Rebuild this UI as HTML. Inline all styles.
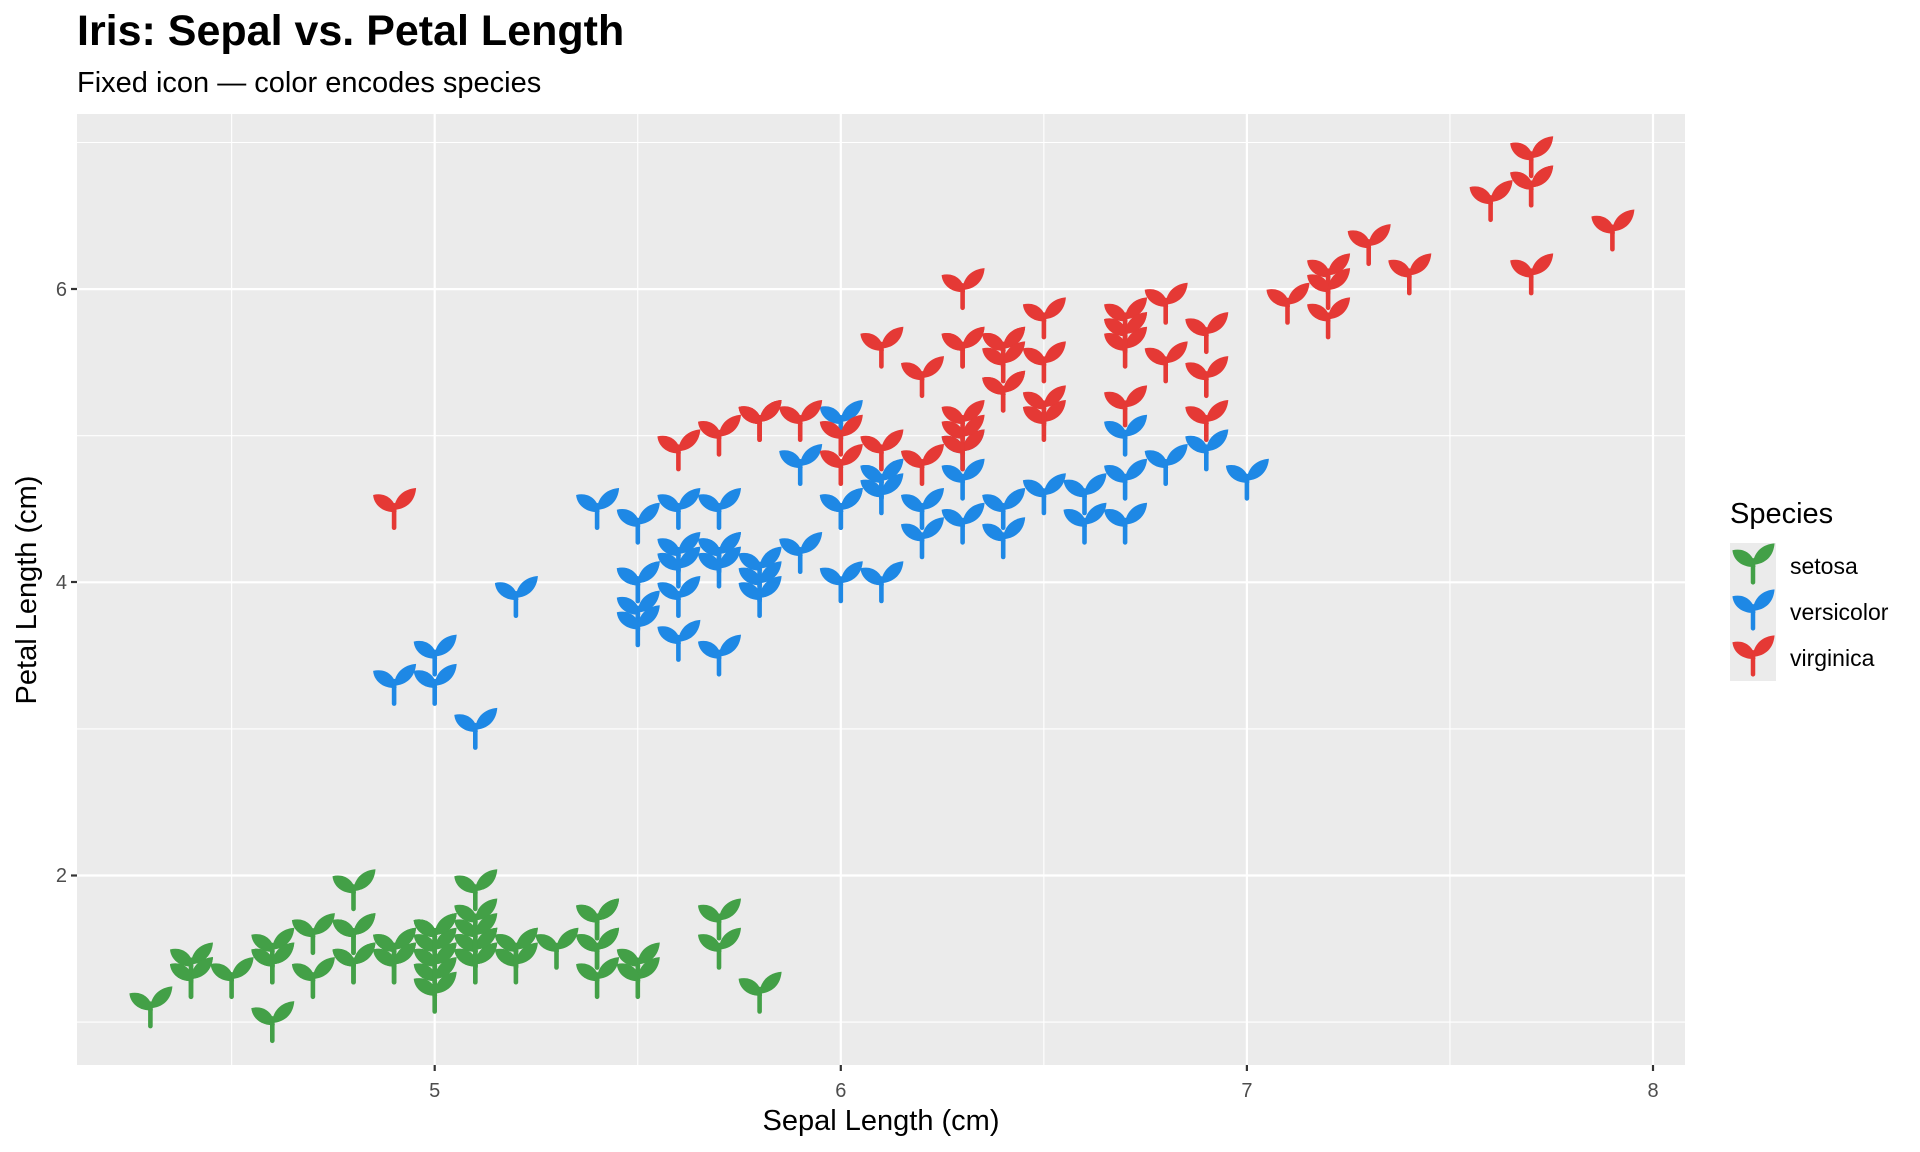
<!DOCTYPE html>
<html><head><meta charset="utf-8"><style>
html,body{margin:0;padding:0;background:#fff;}
svg{display:block;font-family:"Liberation Sans",sans-serif;}
</style></head><body>
<svg id="s" width="1920" height="1152" viewBox="0 0 1920 1152" xmlns="http://www.w3.org/2000/svg">
<defs>
<g id="icon">
<rect x="-2.3" y="-6" width="4.6" height="27" rx="2.3"/>
<path d="M2.5,3 C1,-10 -9,-17 -21,-14 C-20,-3 -10,4 2.5,3 Z"/>
<path d="M-0.5,1 C1,-13 10,-20 22,-21 C21,-8 13,0 -0.5,1 Z"/>
</g>
</defs>
<text x="77" y="45" font-size="43" font-weight="bold" fill="#000">Iris: Sepal vs. Petal Length</text>
<text x="77" y="92" font-size="29" fill="#000">Fixed icon — color encodes species</text>
<rect x="77" y="114" width="1608" height="951" fill="#ebebeb"/>
<g id="grid"></g>
<g id="pts"></g>
<g font-size="20" fill="#4d4d4d">
<text x="434.7" y="1097" text-anchor="middle">5</text>
<text x="840.8" y="1097" text-anchor="middle">6</text>
<text x="1246.9" y="1097" text-anchor="middle">7</text>
<text x="1653" y="1097" text-anchor="middle">8</text>
<text x="67" y="296" text-anchor="end">6</text>
<text x="67" y="589" text-anchor="end">4</text>
<text x="67" y="882" text-anchor="end">2</text>
</g>
<g stroke="#333" stroke-width="2.2">
<line x1="434.7" y1="1065" x2="434.7" y2="1071"/><line x1="840.8" y1="1065" x2="840.8" y2="1071"/>
<line x1="1246.9" y1="1065" x2="1246.9" y2="1071"/><line x1="1653" y1="1065" x2="1653" y2="1071"/>
<line x1="71" y1="289" x2="77" y2="289"/><line x1="71" y1="582" x2="77" y2="582"/><line x1="71" y1="875.5" x2="77" y2="875.5"/>
</g>
<text x="881" y="1130" font-size="29" text-anchor="middle" fill="#000">Sepal Length (cm)</text>
<text transform="translate(36,590) rotate(-90)" font-size="29" text-anchor="middle" fill="#000">Petal Length (cm)</text>
<text x="1730" y="523" font-size="29" fill="#000">Species</text>
<rect x="1730" y="543" width="46" height="138" fill="#ebebeb"/>
<use href="#icon" transform="translate(1753,564) scale(0.98)" fill="#43A047"/>
<use href="#icon" transform="translate(1753,610) scale(0.98)" fill="#1E88E5"/>
<use href="#icon" transform="translate(1753,656) scale(0.98)" fill="#E53935"/>
<g font-size="23" fill="#000">
<text x="1790" y="574">setosa</text>
<text x="1790" y="620">versicolor</text>
<text x="1790" y="666">virginica</text>
</g>
</svg>
<script>
function X(v){return 434.7+(v-5)*406.1;}
function Y(v){return 875.5-(v-2)*146.6;}
var g=document.getElementById("grid"),h="";
[4.5,5.5,6.5,7.5].forEach(function(v){h+='<line x1="'+X(v)+'" x2="'+X(v)+'" y1="114" y2="1065" stroke="#fff" stroke-width="1.1"/>';});
[1,3,5,7].forEach(function(v){h+='<line y1="'+Y(v)+'" y2="'+Y(v)+'" x1="77" x2="1685" stroke="#fff" stroke-width="1.1"/>';});
[5,6,7,8].forEach(function(v){h+='<line x1="'+X(v)+'" x2="'+X(v)+'" y1="114" y2="1065" stroke="#fff" stroke-width="2.2"/>';});
[2,4,6].forEach(function(v){h+='<line y1="'+Y(v)+'" y2="'+Y(v)+'" x1="77" x2="1685" stroke="#fff" stroke-width="2.2"/>';});
g.innerHTML=h;
var se="5.1 1.4;4.9 1.4;4.7 1.3;4.6 1.5;5.0 1.4;5.4 1.7;4.6 1.4;5.0 1.5;4.4 1.4;4.9 1.5;5.4 1.5;4.8 1.6;4.8 1.4;4.3 1.1;5.8 1.2;5.7 1.5;5.4 1.3;5.1 1.4;5.7 1.7;5.1 1.5;5.4 1.7;5.1 1.5;4.6 1.0;5.1 1.7;4.8 1.9;5.0 1.6;5.0 1.6;5.2 1.5;5.2 1.4;4.7 1.6;4.8 1.6;5.4 1.5;5.2 1.5;5.5 1.4;4.9 1.5;5.0 1.2;5.5 1.3;4.9 1.4;4.4 1.3;5.1 1.5;5.0 1.3;4.5 1.3;4.4 1.3;5.0 1.6;5.1 1.9;4.8 1.4;5.1 1.6;4.6 1.4;5.3 1.5;5.0 1.4";
var ve="7.0 4.7;6.4 4.5;6.9 4.9;5.5 4.0;6.5 4.6;5.7 4.5;6.3 4.7;4.9 3.3;6.6 4.6;5.2 3.9;5.0 3.5;5.9 4.2;6.0 4.0;6.1 4.7;5.6 3.6;6.7 4.4;5.6 4.5;5.8 4.1;6.2 4.5;5.6 3.9;5.9 4.8;6.1 4.0;6.3 4.9;6.1 4.7;6.4 4.3;6.6 4.4;6.8 4.8;6.7 5.0;6.0 4.5;5.7 3.5;5.5 3.8;5.5 3.7;5.8 3.9;6.0 5.1;5.4 4.5;6.0 4.5;6.7 4.7;6.3 4.4;5.6 4.1;5.5 4.0;5.5 4.4;6.1 4.6;5.8 4.0;5.0 3.3;5.6 4.2;5.7 4.2;5.7 4.2;6.2 4.3;5.1 3.0;5.7 4.1";
var vi="6.3 6.0;5.8 5.1;7.1 5.9;6.3 5.6;6.5 5.8;7.6 6.6;4.9 4.5;7.3 6.3;6.7 5.8;7.2 6.1;6.5 5.1;6.4 5.3;6.8 5.5;5.7 5.0;5.8 5.1;6.4 5.3;6.5 5.5;7.7 6.7;7.7 6.9;6.0 5.0;6.9 5.7;5.6 4.9;7.7 6.7;6.3 4.9;6.7 5.7;7.2 6.0;6.2 4.8;6.1 4.9;6.4 5.6;7.2 5.8;7.4 6.1;7.9 6.4;6.4 5.6;6.3 5.1;6.1 5.6;7.7 6.1;6.3 5.6;6.4 5.5;6.0 4.8;6.9 5.4;6.7 5.6;6.9 5.1;5.8 5.1;6.8 5.9;6.7 5.7;6.7 5.2;6.3 5.0;6.5 5.2;6.2 5.4;5.9 5.1";
var p=document.getElementById("pts"),s="";
[[se,"#43A047"],[ve,"#1E88E5"],[vi,"#E53935"]].forEach(function(d){
 d[0].split(";").forEach(function(q){var a=q.split(" ");
  s+='<use href="#icon" fill="'+d[1]+'" transform="translate('+X(+a[0]).toFixed(1)+','+Y(+a[1]).toFixed(1)+')"/>';});
});
p.innerHTML=s;
</script>
</body></html>
